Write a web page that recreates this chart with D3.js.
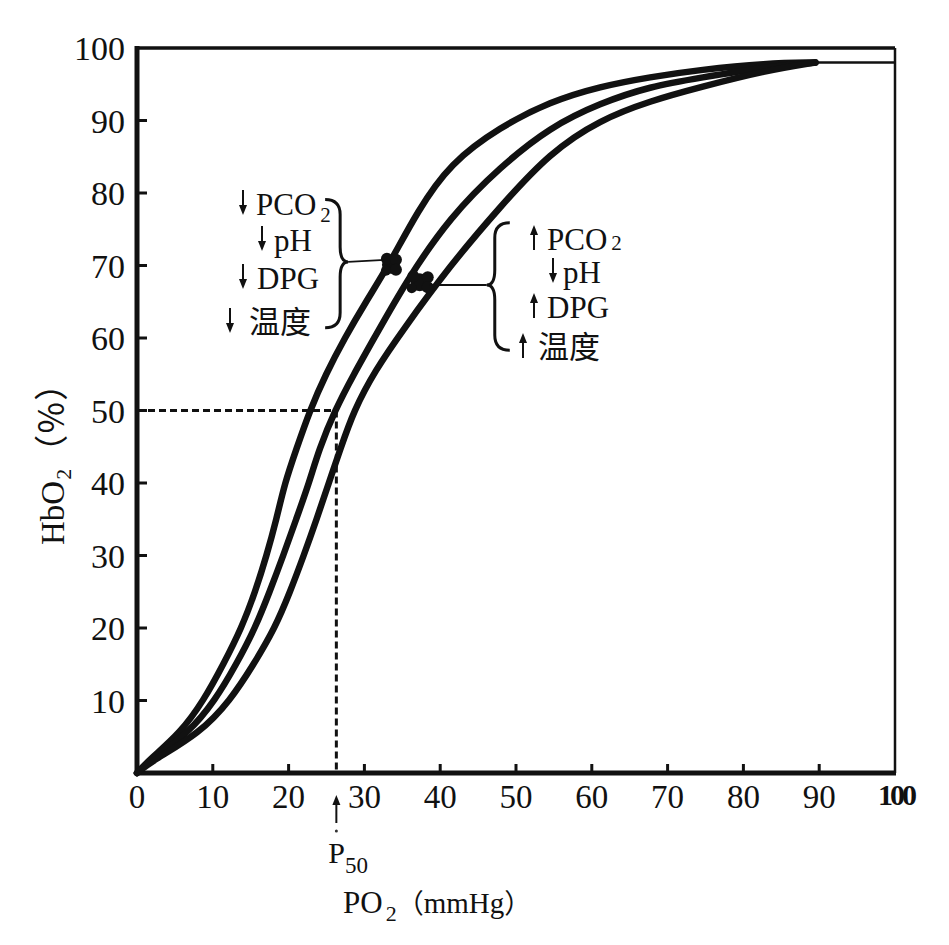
<!DOCTYPE html>
<html>
<head>
<meta charset="utf-8">
<script src="https://cdn.jsdelivr.net/npm/d3@7/dist/d3.min.js"></script>
<style>
  body { margin: 0; background: #fff; }
  text { font-family: "Liberation Serif", "DejaVu Serif", serif; fill: #111; }
  .cjk { font-family: "Noto Sans CJK SC", "Noto Sans CJK JP", sans-serif; }
</style>
</head>
<body>
<div id="chart-area"></div>
<script>

// ---- data ----
let xTicks = [0, 10, 20, 30, 40, 50, 60, 70, 80, 90];
let yTicks = [10, 20, 30, 40, 50, 60, 70, 80, 90, 100];

// left curve: lower PCO2 / higher pH / lower DPG / lower temperature
let leftPO2 = [0, 1.7, 5.7, 8.8, 11.4, 13.8, 15.6, 17.1, 18.4, 19.5, 21.0, 22.8, 24.9, 27.4, 30.2, 33.2, 37.0, 41.3, 47.9, 54.5, 61.1, 67.7, 74.3, 83.0, 89.5];
let leftSat = [0, 1.9, 5.5, 10, 15, 20, 25, 30, 35, 40, 44.6, 50, 55, 60, 65, 70, 77.5, 84.1, 89.1, 92.6, 94.7, 96.0, 97.0, 97.9, 98];

// middle (normal) curve
let midPO2 = [0, 1.8, 6.8, 10.3, 13.1, 15.6, 17.5, 19.3, 21.0, 22.7, 24.0, 26.1, 28.6, 31.3, 35.6, 41.3, 47.9, 54.5, 61.1, 67.7, 74.3, 83.0, 89.5];
let midSat = [0, 1.8, 5.5, 10, 15, 20, 25, 30, 35, 40, 44.6, 50, 55, 60, 68, 76.7, 83.6, 89.1, 92.4, 94.7, 95.9, 97.4, 98];

// right curve: higher PCO2 / lower pH / higher DPG / higher temperature
let rightPO2 = [0, 1.9, 8.3, 12.3, 15.4, 18.2, 20.2, 22.0, 23.7, 25.3, 26.8, 28.6, 31.4, 35.0, 41.3, 47.9, 54.5, 61.1, 67.7, 74.3, 83.0, 89.5];
let rightSat = [0, 1.6, 5.5, 10, 15, 20, 25, 30, 35, 40, 44.6, 50, 55.5, 61, 70, 78.1, 85.6, 90.1, 92.7, 94.6, 96.9, 98];

// plateau where the curves merge
let plateauPO2 = [89.5, 100];
let plateauSat = 98;

// P50 of the normal curve
let p50 = 26.3;
let halfSat = 50;

// ink blobs where the braces meet the curves
let blobPO2 = [33.5, 37.3];
let blobSat = [70.1, 67.7];

// ---- drawing area ----
let width = 949, height = 945;

let svg = d3.select("#chart-area").append("svg")
    .attr("width", width)
    .attr("height", height);

svg.append("rect").attr("width", width).attr("height", height).attr("fill", "#fff");

// Scales
let x = d3.scaleLinear().domain([0, 100]).range([137, 895]);
let y = d3.scaleLinear().domain([0, 100]).range([773, 48]);

// frame
svg.append("line")
    .attr("x1", x(0)).attr("x2", x(100))
    .attr("y1", y(100)).attr("y2", y(100))
    .attr("stroke", "#111").attr("stroke-width", 3.5);
svg.append("line")
    .attr("x1", x(100)).attr("x2", x(100))
    .attr("y1", y(100)).attr("y2", y(0))
    .attr("stroke", "#111").attr("stroke-width", 2.5);
svg.append("line")
    .attr("x1", x(0)).attr("x2", x(0))
    .attr("y1", y(100) - 2).attr("y2", y(0) + 2)
    .attr("stroke", "#111").attr("stroke-width", 5);
svg.append("line")
    .attr("x1", x(0) - 2).attr("x2", x(100) + 1)
    .attr("y1", y(0)).attr("y2", y(0))
    .attr("stroke", "#111").attr("stroke-width", 5);

// y ticks + labels
svg.selectAll(".ytick")
    .data(yTicks.filter(d => d < 100))
  .enter().append("line")
    .attr("class", "ytick")
    .attr("x1", x(0)).attr("x2", x(0) + 10)
    .attr("y1", d => y(d)).attr("y2", d => y(d))
    .attr("stroke", "#111").attr("stroke-width", 3);

svg.selectAll(".ylabel")
    .data(yTicks)
  .enter().append("text")
    .attr("class", "ylabel")
    .attr("x", x(0) - 12)
    .attr("y", d => y(d) + 12)
    .attr("text-anchor", "end")
    .attr("font-size", 34)
    .text(d => d);

// x ticks + labels
svg.selectAll(".xtick")
    .data(xTicks.filter(d => d > 0))
  .enter().append("line")
    .attr("class", "xtick")
    .attr("x1", d => x(d)).attr("x2", d => x(d))
    .attr("y1", y(0)).attr("y2", y(0) - 9)
    .attr("stroke", "#111").attr("stroke-width", 3);

svg.selectAll(".xlabel")
    .data(xTicks)
  .enter().append("text")
    .attr("class", "xlabel")
    .attr("x", d => x(d))
    .attr("y", y(0) + 35)
    .attr("text-anchor", "middle")
    .attr("font-size", 33)
    .text(d => d);

svg.append("text")
    .attr("x", x(100) + 1)
    .attr("y", y(0) + 32)
    .attr("text-anchor", "middle")
    .attr("font-size", 30)
    .attr("font-weight", "bold")
    .attr("letter-spacing", -3)
    .text("100");

// dashed P50 guides
svg.append("line")
    .attr("x1", x(0)).attr("x2", x(p50) - 3)
    .attr("y1", y(halfSat)).attr("y2", y(halfSat))
    .attr("stroke", "#111").attr("stroke-width", 3)
    .attr("stroke-dasharray", "7,4");
svg.append("line")
    .attr("x1", x(p50)).attr("x2", x(p50))
    .attr("y1", y(halfSat)).attr("y2", y(0))
    .attr("stroke", "#111").attr("stroke-width", 3)
    .attr("stroke-dasharray", "7,4");

// curves
let line = d3.line()
    .x(d => x(d[0]))
    .y(d => y(d[1]))
    .curve(d3.curveBasis);

let curves = [
    d3.zip(leftPO2, leftSat),
    d3.zip(midPO2, midSat),
    d3.zip(rightPO2, rightSat)
];

svg.selectAll(".curve")
    .data(curves)
  .enter().append("path")
    .attr("class", "curve")
    .attr("d", line)
    .attr("fill", "none")
    .attr("stroke", "#111")
    .attr("stroke-width", 6.5)
    .attr("stroke-linecap", "round");

svg.append("line")
    .attr("x1", x(plateauPO2[0])).attr("x2", x(plateauPO2[1]))
    .attr("y1", y(plateauSat)).attr("y2", y(plateauSat))
    .attr("stroke", "#111").attr("stroke-width", 2.5);

// blobs (a few overlapping dots each, to look like ink)
let blobs = d3.zip(blobPO2, blobSat);
let bumps = [[0, 0, 9], [-4, -6, 6], [5, -5, 6], [5, 5, 6], [-5, 6, 5]];
blobs.forEach((b, i) => {
  svg.selectAll(".bump" + i)
      .data(bumps)
    .enter().append("circle")
      .attr("cx", d => x(b[0]) + d[0] * (i ? 1.6 : 1))
      .attr("cy", d => y(b[1]) + d[1])
      .attr("r", d => d[2])
      .attr("fill", "#111");
});

// braces
function brace(cx, y0, y1, ym, dir) {
  let w = 15, t = 8;
  return "M" + (cx - dir * w) + "," + y0 +
    " Q" + cx + "," + y0 + " " + cx + "," + (y0 + w) +
    " L" + cx + "," + (ym - w) +
    " Q" + cx + "," + ym + " " + (cx + dir * t) + "," + ym +
    " Q" + cx + "," + ym + " " + cx + "," + (ym + w) +
    " L" + cx + "," + (y1 - w) +
    " Q" + cx + "," + y1 + " " + (cx - dir * w) + "," + y1;
}

// left brace "}"
let lbX = x(26.8), lbTip = y(70.5);
svg.append("path")
    .attr("d", brace(lbX, y(79.1), y(61.4), lbTip, 1))
    .attr("fill", "none").attr("stroke", "#111").attr("stroke-width", 3);
svg.append("line")
    .attr("x1", lbX + 8).attr("x2", x(blobPO2[0]) - 6)
    .attr("y1", lbTip).attr("y2", lbTip - 2)
    .attr("stroke", "#111").attr("stroke-width", 2);

// right brace "{"
let rbX = x(47.2), rbTip = y(67.3);
svg.append("path")
    .attr("d", brace(rbX, y(75.9), y(58.3), rbTip, -1))
    .attr("fill", "none").attr("stroke", "#111").attr("stroke-width", 3);
svg.append("line")
    .attr("x1", x(blobPO2[1]) + 10).attr("x2", rbX - 8)
    .attr("y1", rbTip).attr("y2", rbTip)
    .attr("stroke", "#111").attr("stroke-width", 2);

// arrows
function arrow(ax, yTop, yBot, up) {
  let g = svg.append("g");
  g.append("line")
      .attr("x1", ax).attr("x2", ax)
      .attr("y1", up ? yTop + 5 : yTop).attr("y2", up ? yBot : yBot - 5)
      .attr("stroke", "#111").attr("stroke-width", 2);
  let tip = up ? yTop : yBot, base = up ? yTop + 10 : yBot - 10;
  g.append("path")
      .attr("d", "M" + (ax - 4) + "," + base + " L" + ax + "," + tip + " L" + (ax + 4) + "," + base + " Z")
      .attr("fill", "#111");
}

// annotation label lines: [arrow x, text x, baseline, up?, label, sub]
let leftLabels = [
  [243, 256, 215, false, "PCO", "2"],
  [262, 274, 251, false, "pH", ""],
  [243, 257, 289, false, "DPG", ""],
  [230, 249, 333, false, "温度", ""]
];
let rightLabels = [
  [534, 547, 250, true, "PCO", "2"],
  [553, 563, 283, false, "pH", ""],
  [534, 547, 318, true, "DPG", ""],
  [523, 538, 358, true, "温度", ""]
];

function drawLabels(rows, subDrop) {
  rows.forEach(r => {
    arrow(r[0], r[2] - 25, r[2], r[3]);
    let cjk = r[4] === "温度";
    let t = svg.append("text")
        .attr("x", r[1]).attr("y", r[2])
        .attr("font-size", 31)
        .attr("class", cjk ? "cjk" : null)
        .text(r[4]);
    if (r[5]) {
      t.append("tspan")
          .attr("dx", 4).attr("dy", subDrop)
          .attr("font-size", 21)
          .text(r[5]);
    }
  });
}
drawLabels(leftLabels, 7);
drawLabels(rightLabels, 0);

// P50 marker
arrow(x(p50), y(0) + 22, y(0) + 50, true);
svg.append("circle").attr("cx", x(p50)).attr("cy", y(0) + 58).attr("r", 1.5).attr("fill", "#333");
let p = svg.append("text")
    .attr("x", x(p50) - 8).attr("y", y(0) + 90)
    .attr("font-size", 30)
    .text("P");
p.append("tspan").attr("dy", 10).attr("font-size", 23).text("50");

// axis titles
let xt = svg.append("text")
    .attr("x", 343).attr("y", 913)
    .attr("font-size", 31)
    .text("PO");
xt.append("tspan").attr("dx", 3).attr("dy", 8).attr("font-size", 22).text("2");
xt.append("tspan").attr("dy", -8).attr("class", "cjk").attr("font-size", 27).text("（");
xt.append("tspan").attr("font-size", 29).text("mmHg");
xt.append("tspan").attr("class", "cjk").attr("font-size", 27).text("）");

let yt = svg.append("text")
    .attr("transform", "translate(64,545) rotate(-90)")
    .attr("font-size", 33)
    .text("HbO");
yt.append("tspan").attr("dx", 1).attr("dy", 7).attr("font-size", 22).text("2");
yt.append("tspan").attr("dy", -7).attr("class", "cjk").attr("font-size", 34).text("（％）");

</script>
</body>
</html>
